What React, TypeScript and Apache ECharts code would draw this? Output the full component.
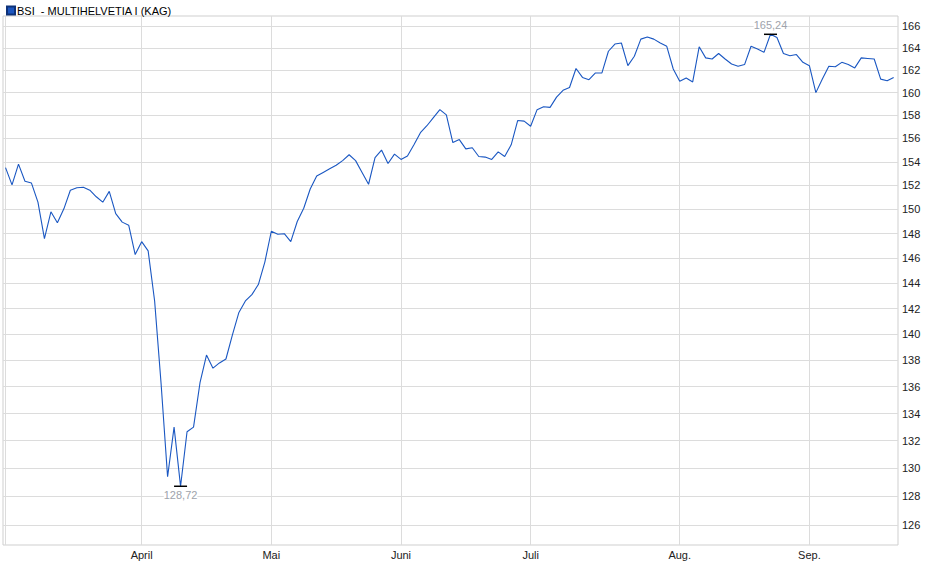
import { useRef, useEffect } from "react";
import * as echarts from "echarts";

const seriesName = "BSI  - MULTIHELVETIA I (KAG)";

// one close per trading day, 3 Mar .. 18 Sep
const closes = [
  153.5, 152.05, 153.8, 152.35, 152.2, 150.6, 147.6, 149.8, 148.9, 150.05,
  151.6, 151.8, 151.85, 151.6, 151.05, 150.6, 151.5, 149.65, 148.95, 148.7,
  146.3, 147.35, 146.6, 142.6, 136.2, 129.4, 133.0, 128.72, 132.66, 133.0,
  136.3, 138.4, 137.4, 137.8, 138.1, 139.95, 141.7, 142.6, 143.1, 143.9,
  145.7, 148.2, 147.95, 148.0, 147.35, 149.0, 150.1, 151.7, 152.8, 153.1,
  153.4, 153.7, 154.1, 154.6, 154.1, 153.1, 152.1, 154.35, 155.0, 153.85,
  154.65, 154.2, 154.5, 155.45, 156.5, 157.1, 157.8, 158.5, 158.05, 155.65,
  155.9, 155.1, 155.2, 154.45, 154.4, 154.2, 154.85, 154.45, 155.45, 157.55,
  157.5, 157.05, 158.5, 158.75, 158.7, 159.6, 160.2, 160.45, 162.15, 161.35,
  161.15, 161.75, 161.75, 163.7, 164.35, 164.45, 162.4, 163.25, 164.8, 165.0,
  164.8, 164.45, 164.15, 162.1, 161.0, 161.3, 160.95, 164.1, 163.1, 163.0,
  163.5, 163.0, 162.55, 162.35, 162.5, 164.15, 163.9, 163.6, 165.24, 164.95,
  163.5, 163.3, 163.4, 162.7, 162.4, 160.0, 161.2, 162.35, 162.3, 162.7,
  162.5, 162.2, 163.1, 163.05, 163.0, 161.2, 161.05, 161.35,
];

// first trading day of each month (index into closes)
const monthLabels = ["April", "Mai", "Juni", "Juli", "Aug.", "Sep."];
const monthStarts = [21, 41, 61, 81, 104, 124];

const yTicks = [126, 128, 130, 132, 134, 136, 138, 140, 142, 144, 146, 148, 150, 152, 154, 156, 158, 160, 162, 164, 166];

const font = 'Arial, "Liberation Sans", sans-serif';
const markColor = "#9ea3ab";
const fmt = (v: number) => v.toFixed(2).replace(".", ",");

export default function App() {
  const chartRef = useRef<HTMLDivElement>(null);

  useEffect(() => {
    if (!chartRef.current) return;
    const chart = echarts.init(chartRef.current, undefined, { renderer: "svg" });

    // log scale: plot ln(value) on a linear axis
    const data = closes.map((v, i) => [i, Math.log(v)]);
    let minIdx = 0;
    let maxIdx = 0;
    closes.forEach((v, i) => {
      if (v < closes[minIdx]) minIdx = i;
      if (v > closes[maxIdx]) maxIdx = i;
    });

    const option: echarts.EChartsOption = {
      animation: false,
      backgroundColor: "#fff",
      textStyle: { fontFamily: font },
      legend: {
        left: 1,
        top: 0,
        icon: "rect",
        itemWidth: 8,
        itemHeight: 8,
        itemGap: 4,
        textStyle: { fontSize: 11, color: "#000", fontFamily: font, padding: [0, 0, 0, -3] },
        data: [seriesName],
      },
      grid: {
        left: 3,
        top: 16,
        right: 42,
        bottom: 34,
        show: true,
        borderColor: "#cfcfcf",
        borderWidth: 1,
        containLabel: false,
      },
      xAxis: {
        type: "value",
        min: -0.39,
        max: 137.67,
        axisLine: { show: false },
        axisTick: { show: false, customValues: [0, ...monthStarts] },
        splitLine: { show: true, lineStyle: { color: "#dcdcdc", width: 1 } },
        axisLabel: {
          customValues: monthStarts,
          formatter: (v: number) => monthLabels[monthStarts.indexOf(Math.round(v))] ?? "",
          fontSize: 11,
          color: "#222",
          margin: 4,
        },
      },
      yAxis: {
        type: "value",
        position: "right",
        min: Math.log(124.61),
        max: Math.log(166.92),
        axisLine: { show: false },
        axisTick: { show: false, customValues: yTicks.map((t) => Math.log(t)) },
        splitLine: { show: true, lineStyle: { color: "#dcdcdc", width: 1 } },
        axisLabel: {
          customValues: yTicks.map((t) => Math.log(t)),
          formatter: (v: number) => String(Math.round(Math.exp(v))),
          fontSize: 11,
          color: "#222",
          margin: 4,
        },
      },
      series: [
        {
          name: seriesName,
          type: "line",
          data,
          symbol: "none",
          lineStyle: { color: "#1a57c2", width: 1.1 },
          itemStyle: { color: "#1d56c0", borderColor: "#0e3278", borderWidth: 1 },
          markPoint: {
            symbol: "rect",
            symbolSize: [13, 1.5],
            itemStyle: { color: "#000" },
            label: {
              show: true,
              fontSize: 11,
              color: markColor,
              backgroundColor: "#fff",
              fontFamily: font,
            },
            data: [
              {
                coord: [minIdx, Math.log(closes[minIdx])],
                value: closes[minIdx],
                label: { position: "bottom", distance: 2, color: markColor, formatter: fmt(closes[minIdx]) },
              },
              {
                coord: [maxIdx, Math.log(closes[maxIdx])],
                value: closes[maxIdx],
                label: { position: "top", distance: 3, color: markColor, formatter: fmt(closes[maxIdx]) },
              },
            ],
          },
        },
      ],
    };

    chart.setOption(option);
    return () => chart.dispose();
  }, []);

  return <div ref={chartRef} style={{ position: "fixed", left: 0, top: 0, width: 940, height: 579 }} />;
}
